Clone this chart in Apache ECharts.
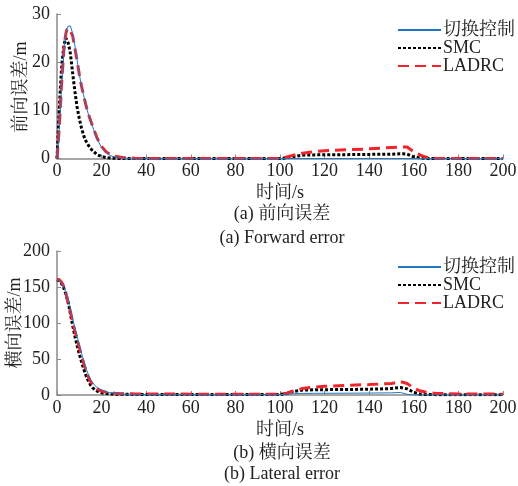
<!DOCTYPE html>
<html>
<head>
<meta charset="utf-8">
<script src="https://cdn.jsdelivr.net/npm/echarts@6/dist/echarts.min.js"></script>
<style>
html,body{margin:0;padding:0;background:#fff;}
#c{width:518px;height:486px;}
</style>
</head>
<body>
<div id="c"></div>
<script>
// ---- data ----
var seriesNames = ['切换控制', 'SMC', 'LADRC'];
var xTicks = [0, 20, 40, 60, 80, 100, 120, 140, 160, 180, 200];
var fwdTicks = [0, 10, 20, 30];
var latTicks = [0, 50, 100, 150, 200];

// forward error (a)
var tFwd = [0, 0.5, 1, 1.5, 2, 2.5, 3, 3.5, 4, 4.5, 5, 5.5, 6, 7, 8, 9, 10, 11, 12, 13, 14, 15, 16, 18, 20, 22, 24, 26, 28, 30, 35, 40, 60, 80, 100, 103, 106, 110, 115, 120, 130, 140, 150, 155, 157, 160, 163, 166, 170, 180, 190, 200];
var fwdSwitch = [0, 2.5, 6, 10, 14.5, 18, 21.5, 24, 25.8, 26.9, 27.5, 27.7, 27.5, 26, 23.5, 20.5, 17.5, 15, 13, 11, 9.3, 8, 6.6, 4, 2.3, 1.2, 0.6, 0.3, 0.15, 0.05, 0, 0, 0, 0, 0, 0, 0, 0, 0, 0, 0, 0, 0, 0, 0, 0, 0, 0, 0, 0, 0, 0];
var fwdSMC = [0, 5, 10, 14.5, 18.4, 21, 23, 24.3, 25, 24.8, 24, 23, 21.8, 17.8, 14, 10.7, 8.3, 6.3, 4.7, 3.6, 2.8, 2.1, 1.6, 0.8, 0.4, 0.2, 0.1, 0.05, 0, 0, 0, 0, 0, 0, 0, 0.1, 0.4, 0.7, 0.75, 0.8, 0.8, 0.85, 0.9, 1.0, 0.9, 0.35, 0.1, 0, 0, 0, 0, 0];
var fwdLADRC = [0, 2.8, 6.5, 10.5, 15, 18.5, 22, 24.5, 26, 26.8, 27, 27, 26.7, 25.5, 23, 20.3, 17.5, 15, 13, 11, 9.3, 8, 6.7, 4.2, 2.5, 1.4, 0.8, 0.5, 0.3, 0.15, 0.05, 0, 0, 0, 0, 0.3, 0.7, 1.1, 1.4, 1.6, 1.8, 2.0, 2.3, 2.4, 2.4, 1.4, 0.7, 0.2, 0, 0, 0, 0];

// lateral error (b)
var tLat = [0, 1, 2, 3, 4, 5, 6, 7, 8, 9, 10, 11, 12, 13, 14, 15, 16, 17, 18, 19, 20, 22, 24, 26, 28, 30, 35, 40, 60, 80, 100, 103, 106, 110, 115, 120, 130, 140, 150, 154, 157, 160, 163, 166, 170, 180, 190, 200];
var latSwitch = [160, 159, 156, 150, 142, 131, 119, 106, 94, 82, 70, 58, 47, 37, 29, 22, 17, 13, 10.5, 8.7, 7, 4.5, 3, 2.2, 1.6, 1.2, 0.8, 0.6, 0.5, 0.5, 0.5, 1, 1.8, 2.2, 2.3, 2.4, 2.5, 2.7, 3, 3.5, 1, 0, 0, 0, 0, 0, 0, 0];
var latSMC = [160, 159, 155, 149, 140, 129, 113, 97, 82, 69, 57, 46, 36, 27, 20, 14, 10, 7.5, 5.5, 4, 3, 2, 1.5, 1.2, 1, 1, 0.8, 0.8, 0.8, 0.8, 0.8, 2, 5, 6.8, 7.2, 7.4, 7.7, 8, 9, 10.5, 8.5, 3.8, 1, 0.6, 0.5, 0.5, 0.5, 0.5];
var latLADRC = [161, 160, 157, 151, 141, 128, 116, 102, 89, 78, 66, 54, 44, 34, 26, 19, 14.5, 11, 8.5, 6.7, 5.5, 4, 3, 2.4, 2, 1.7, 1.5, 1.3, 1.2, 1.2, 1.2, 2.5, 5.5, 9, 11, 12, 13.5, 14.5, 16, 18.5, 16, 9.5, 5.5, 3.5, 2.2, 1.5, 1.3, 1.2];

// ---- chart ----
function pairs(t, v) { return t.map(function (x, i) { return [x, v[i]]; }); }
var FONT = "'Liberation Serif', 'Times New Roman', 'Noto Serif CJK SC', 'Noto Sans CJK SC', serif";
var TXT = '#222';
var AX = '#8a8a8a';

function xAxisDef(gridIndex) {
  return {
    type: 'value', gridIndex: gridIndex, min: xTicks[0], max: xTicks[xTicks.length - 1],
    interval: xTicks[1] - xTicks[0],
    name: '时间/s', nameLocation: 'middle', nameGap: 26,
    nameTextStyle: { fontFamily: FONT, fontSize: 18, color: TXT },
    axisLine: { show: true, lineStyle: { color: AX, width: 1.5 } },
    axisTick: { show: true, inside: true, length: 4, lineStyle: { color: AX, width: 1 } },
    axisLabel: { fontFamily: FONT, fontSize: 18, color: TXT, margin: 4 },
    splitLine: { show: false }
  };
}
function yAxisDef(gridIndex, ticks) {
  return {
    type: 'value', gridIndex: gridIndex, min: ticks[0], max: ticks[ticks.length - 1],
    interval: ticks[1] - ticks[0],
    axisLine: { show: true, lineStyle: { color: AX, width: 1.5 } },
    axisTick: { show: true, inside: true, length: 4, lineStyle: { color: AX, width: 1 } },
    axisLabel: { fontFamily: FONT, fontSize: 18, color: TXT, margin: 7 },
    splitLine: { show: false }
  };
}
var styles = [
  { color: '#1f77c4', width: 1, type: 'solid' },
  { color: '#000000', width: 3, type: [3, 2] },
  { color: '#f0242a', width: 3, type: [11, 6] }
];
function mkSeries(name, idx, gi, data) {
  var s = styles[idx];
  return {
    name: name, type: 'line', xAxisIndex: gi, yAxisIndex: gi, data: data,
    symbol: 'none', showSymbol: false, smooth: false, silent: true, animation: false,
    lineStyle: { color: s.color, width: s.width, type: s.type },
    itemStyle: { color: s.color },
    z: idx === 0 ? 4 : (idx === 1 ? 2 : 3)
  };
}
function legendDef(top) {
  return {
    orient: 'vertical', left: 397, top: top, itemWidth: 43, itemHeight: 18, itemGap: 0,
    padding: 0, selectedMode: false, data: seriesNames,
    itemStyle: { opacity: 0 },
    textStyle: { fontFamily: FONT, fontSize: 18, color: TXT, padding: [0, 0, 0, -3] }
  };
}
function txt(text, x, y, rot) {
  return { type: 'text', x: x, y: y, rotation: rot || 0,
    style: { text: text, font: '18px ' + FONT, fill: TXT, align: 'center', verticalAlign: 'middle' } };
}

var chart = echarts.init(document.getElementById('c'), null, { renderer: 'canvas' });
chart.setOption({
  animation: false,
  backgroundColor: '#fff',
  grid: [
    { left: 57, right: 15, top: 14, height: 144.5, containLabel: false, outerBoundsMode: 'none' },
    { left: 57, right: 15, top: 251, height: 144, containLabel: false, outerBoundsMode: 'none' }
  ],
  xAxis: [xAxisDef(0), xAxisDef(1)],
  yAxis: [yAxisDef(0, fwdTicks), yAxisDef(1, latTicks)],
  legend: [legendDef(21), legendDef(258)],
  series: [
    mkSeries(seriesNames[0], 0, 0, pairs(tFwd, fwdSwitch)),
    mkSeries(seriesNames[1], 1, 0, pairs(tFwd, fwdSMC)),
    mkSeries(seriesNames[2], 2, 0, pairs(tFwd, fwdLADRC)),
    mkSeries(seriesNames[0], 0, 1, pairs(tLat, latSwitch)),
    mkSeries(seriesNames[1], 1, 1, pairs(tLat, latSMC)),
    mkSeries(seriesNames[2], 2, 1, pairs(tLat, latLADRC))
  ],
  graphic: [
    txt('前向误差/m', 21, 87, Math.PI / 2),
    txt('横向误差/m', 15, 323, Math.PI / 2),
    txt('(a) 前向误差', 282, 214),
    txt('(a) Forward error', 282, 238),
    txt('(b) 横向误差', 282, 453),
    txt('(b) Lateral error', 282, 474)
  ]
});
</script>
</body>
</html>
